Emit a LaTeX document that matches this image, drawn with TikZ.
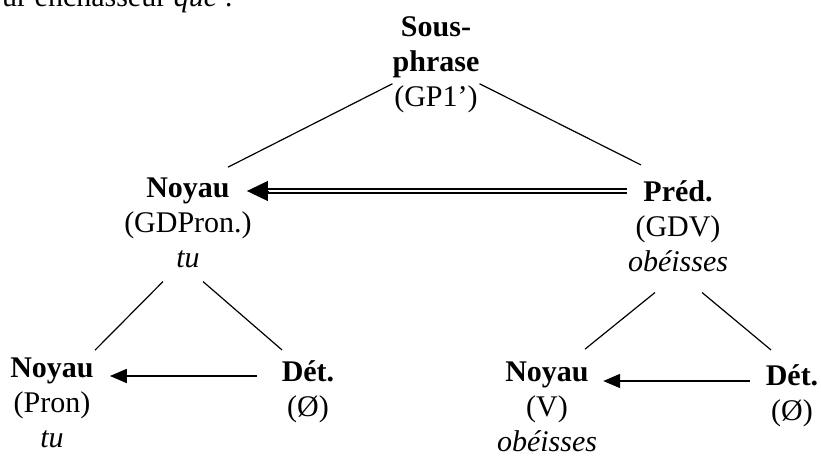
\documentclass[tikz,border=0pt]{standalone}
\usepackage{fontspec}
\setmainfont{Liberation Serif}
\usetikzlibrary{arrows.meta}

\tikzset{
  lbl/.style={anchor=base, align=center, inner sep=0pt, font=\fontsize{30}{35}\selectfont},
  branch/.style={line width=1.2pt},
  rel/.style={line width=1.8pt, -{Triangle[length=17pt,width=14pt]}},
  dbl/.style={double, double distance=2pt, line width=1.6pt},
  bigtip/.style={-{Triangle[length=21pt,width=20pt]}, line width=1pt},
}

\begin{document}
\begin{tikzpicture}[x=1pt,y=-1pt]
  \useasboundingbox (0,0) rectangle (821,457);

  % text above the tree (cut off)
  \node[lbl, anchor=base west] (intro) at (2,7) {ur enchasseur \textit{que} :}; %

  % top (base = last line)
  \node[lbl] (sp)   at (436,107) {\textbf{Sous-}\\\textbf{phrase}\\(GP1’)}; %

  % middle
  \node[lbl] (n1)   at (188,267) {\textbf{Noyau}\\(GDPron.)\\\textit{tu}}; %
  \node[lbl] (pred) at (678,271) {\textbf{Préd.}\\(GDV)\\\textit{obéisses}}; %

  % bottom
  \node[lbl] (n2)   at (52,447)  {\textbf{Noyau}\\(Pron)\\\textit{tu}}; %
  \node[lbl] (det1) at (308,416) {\textbf{Dét.}\\(Ø)}; %
  \node[lbl] (n3)   at (547,451) {\textbf{Noyau}\\(V)\\\textit{obéisses}}; %
  \node[lbl] (det2) at (792,420) {\textbf{Dét.}\\(Ø)}; %

  % branches
  \draw[branch] (sp.203) -- ([shift={(40pt,10pt)}]n1.north); %
  \draw[branch] (sp.337) -- ([shift={(-37pt,15pt)}]pred.north); %
  \draw[branch] ([shift={(-25pt,-14pt)}]n1.south) -- ([shift={(43pt,7pt)}]n2.north); %
  \draw[branch] ([shift={(15pt,-14pt)}]n1.south) -- ([shift={(-26pt,10pt)}]det1.north); %
  \draw[branch] ([shift={(-23pt,-21pt)}]pred.south) -- ([shift={(38pt,12pt)}]n3.north); %
  \draw[branch] ([shift={(24pt,-21pt)}]pred.south) -- ([shift={(-21pt,14pt)}]det2.north); %

  % relations
  \draw[dbl, shorten >=19pt] ([shift={(-1pt,80pt)}]pred.base west) -- ([shift={(-5pt,76pt)}]n1.base east); %
  \draw[bigtip] ([shift={(16pt,76pt)}]n1.base east) -- ([shift={(-5pt,76pt)}]n1.base east); %
  \draw[rel] ([shift={(-25pt,40pt)}]det1.base west) -- ([shift={(16pt,71pt)}]n2.base east); %
  \draw[rel] ([shift={(-16pt,39pt)}]det2.base west) -- ([shift={(6pt,70pt)}]n3.base east); %

\end{tikzpicture}
\end{document}
